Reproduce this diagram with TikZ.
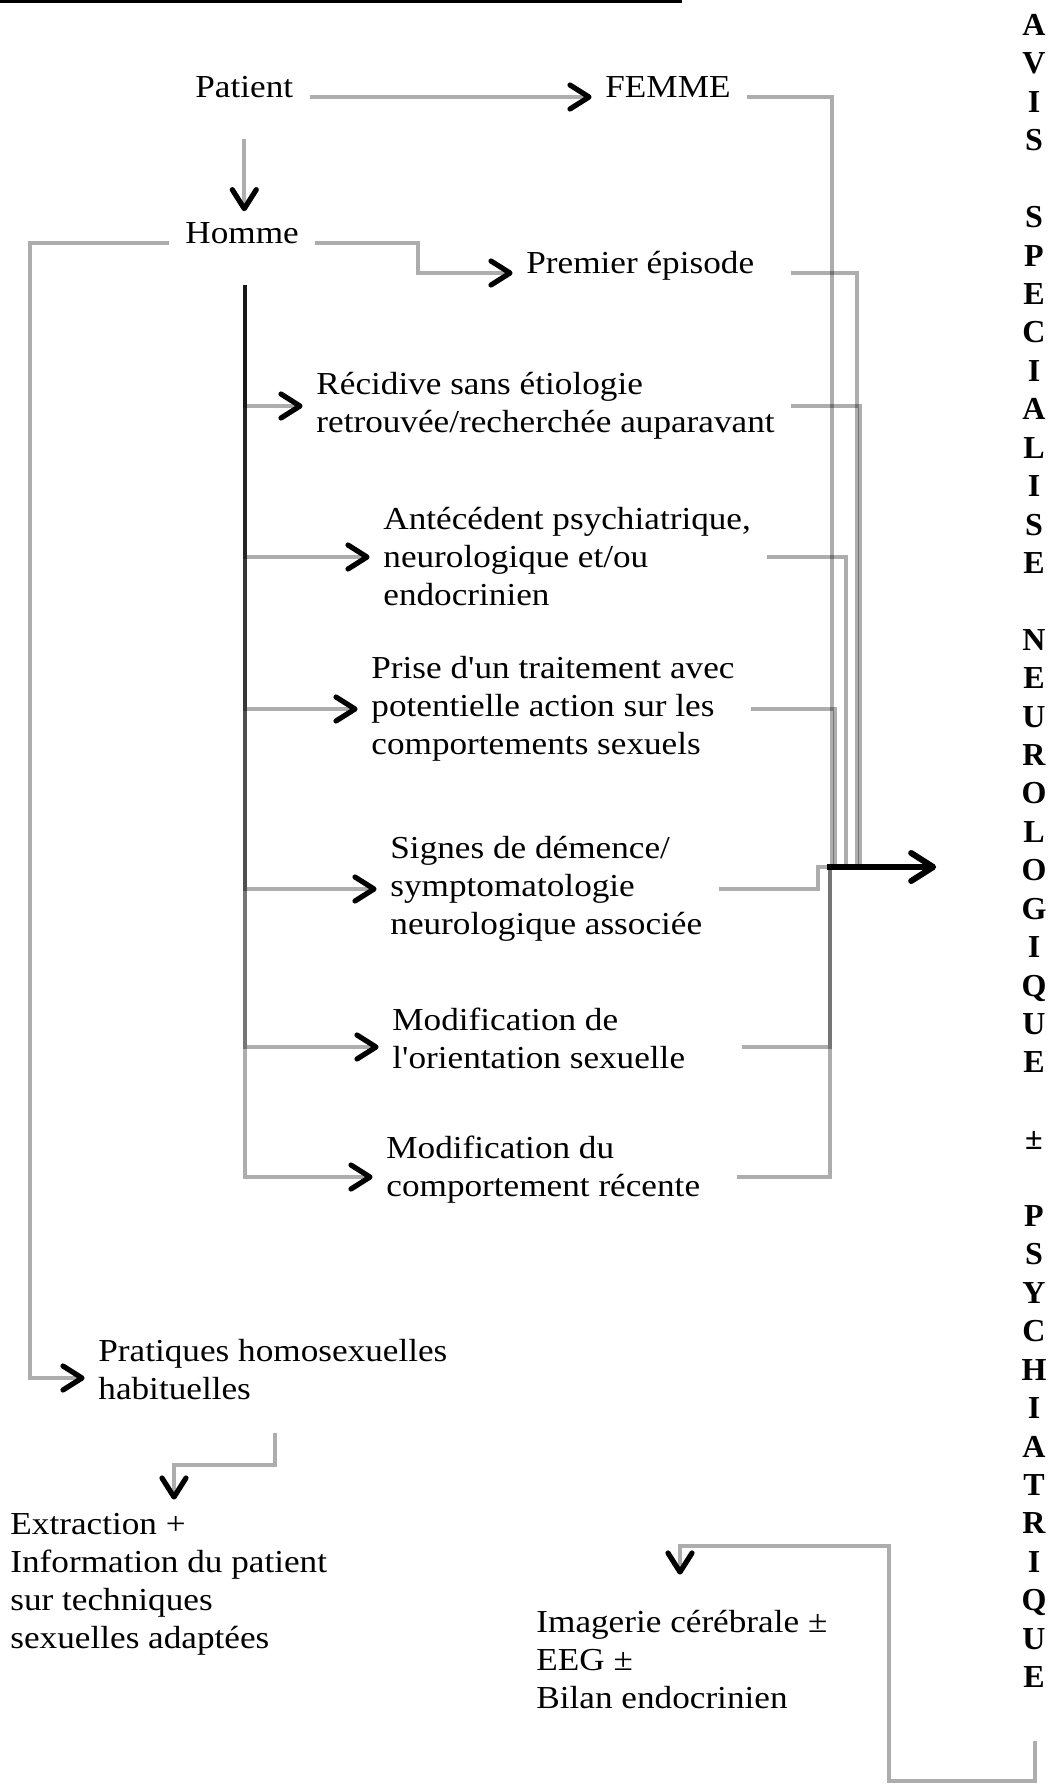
\documentclass[tikz,border=0pt]{standalone}
\usepackage{fontspec}
\setmainfont{Liberation Serif}[FakeStretch=1.1, Ligatures=TeXOff]
\newfontfamily\aviscol{Liberation Serif}[Ligatures=TeXOff]
\usetikzlibrary{decorations.markings,calc}

\begin{document}
\begin{tikzpicture}[x=0.5pt, y=-0.5pt,
  conn/.style={draw=black, draw opacity=0.32, line width=1.9pt},
  barb/.style={draw=black, opacity=1, line width=2.6pt, line cap=round, line join=round},
  tipped/.style={conn, postaction={decorate, decoration={markings,
      mark=at position 1 with {\draw[barb] (-9.5pt,6pt) -- (0pt,0pt) -- (-9.5pt,-6pt);}}}},
  bigarrow/.style={draw=black, line width=2.6pt, postaction={decorate, decoration={markings,
      mark=at position 1 with {\draw[barb, line width=3pt] (-11pt,7pt) -- (0pt,0pt) -- (-11pt,-7pt);}}}},
  txt/.style={inner xsep=8pt, inner ysep=2pt, align=left, font=\fontsize{16pt}{19pt}\selectfont},
  avisbox/.style={inner sep=0pt, align=center, font=\aviscol\bfseries\fontsize{16pt}{19.21pt}\selectfont}]
\useasboundingbox (0,0) rectangle (1048,1785);
\draw[line width=1.4pt] (0,1.4) -- (682,1.4);

% noeuds
\node[txt, anchor=base west] (pat) at (179,97) {Patient};
\node[txt, anchor=base west] (fem) at (589,97) {FEMME};
\node[txt, anchor=base west] (hom) at (169,243) {Homme};
\node[txt, anchor=base west] (prem) at (510,273) {Premier épisode};
\node[txt, anchor=west] (rec) at (300,406) {Récidive sans étiologie\\retrouvée/recherchée auparavant};
\node[txt, anchor=west] (ant) at (367,557) {Antécédent psychiatrique,\\neurologique et/ou\\endocrinien};
\node[txt, anchor=west] (pri) at (355,709) {Prise d'un traitement avec\\potentielle action sur les\\comportements sexuels};
\node[txt, anchor=west] (sig) at (374,889) {Signes de démence/\\symptomatologie\\neurologique associée};
\node[txt, anchor=west] (ori) at (376,1038) {Modification de\\l'orientation sexuelle};
\node[txt, anchor=west] (com) at (370,1170) {Modification du\\comportement récente};
\node[txt, anchor=west] (pra) at (82,1370) {Pratiques homosexuelles\\habituelles};
\node[txt, anchor=north west] (ext) at (-6,1509) {Extraction +\\Information du patient\\sur techniques\\sexuelles adaptées};
\node[txt, anchor=north west] (ima) at (520,1606) {Imagerie cérébrale ±\\EEG ±\\Bilan endocrinien};
\node[avisbox, anchor=north] (avis) at (1034,14) {A\\V\\I\\S\\[19.21pt]S\\P\\E\\C\\I\\A\\L\\I\\S\\E\\[19.21pt]N\\E\\U\\R\\O\\L\\O\\G\\I\\Q\\U\\E\\[19.21pt]±\\[19.21pt]P\\S\\Y\\C\\H\\I\\A\\T\\R\\I\\Q\\U\\E};

\coordinate (trk) at (245,285);
\coordinate (mrg) at (827,867);
\coordinate (avisin) at ($(avis.west |- mrg)+(-88,0)$);
\coordinate (avisout) at ($(avis.south)+(1,53)$);
\coordinate (extin) at (174,1497);
\coordinate (imain) at (680,1572);

% fleches
\draw[tipped] (pat.base east) -- (fem.base west);
\draw[tipped] ($(pat.south)+(0,37)$) -- ($(pat.south |- hom.north)+(0,-9)$);
\draw[tipped] (hom.base east) -- ++(103,0) |- (prem.base west);
\draw[tipped] (hom.base west) -- ++(-139,0) |- ([yshift=-4pt]pra.west);
\draw[tipped] (trk) |- (rec.west);
\draw[tipped] (trk) |- (ant.west);
\draw[tipped] (trk) |- (pri.west);
\draw[tipped] (trk) |- (sig.west);
\draw[tipped] (trk) |- ([yshift=-4.5pt]ori.west);
\draw[tipped] (trk) |- ([yshift=-3.5pt]com.west);

\draw[conn] (fem.base east) -| ([xshift=2.5pt]mrg);
\draw[conn] ([xshift=10pt]prem.base east) -| ([xshift=15pt]mrg);
\draw[conn] (rec.east) -| ([xshift=16.5pt]mrg);
\draw[conn] (ant.east) -| ([xshift=9.5pt]mrg);
\draw[conn] (pri.east) -| ([xshift=4pt]mrg);
\draw[conn] (sig.east) -| ([xshift=-4.5pt]mrg) -- (mrg);
\draw[conn] ([xshift=20pt,yshift=-4.5pt]ori.east) -| ([xshift=1.5pt]mrg);
\draw[conn] ([xshift=10pt,yshift=-3.5pt]com.east) -| ([xshift=1.5pt]mrg);
\draw[bigarrow] (mrg) -- (avisin);

\draw[tipped] ($(pra.south)+(2,28)$) -- ++(0,32) -| (extin);
\draw[tipped] (avisout) -- ++(0,40) -| ++(-146,-235) -| (imain);
\end{tikzpicture}
\end{document}
